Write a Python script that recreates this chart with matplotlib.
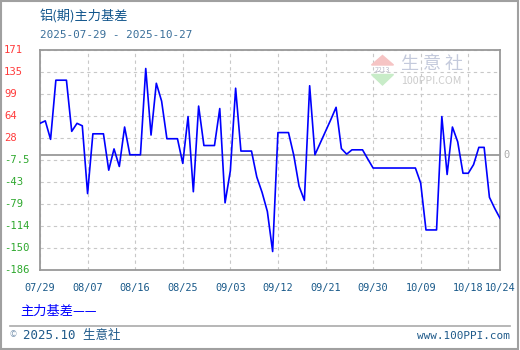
import numpy as np
import pandas as pd
import matplotlib
matplotlib.use('Agg')
import matplotlib.pyplot as plt
import matplotlib.transforms as mtransforms
from matplotlib.patches import Polygon, Rectangle
from matplotlib.lines import Line2D

# 数据: 铝(期)主力基差, 每日
dates = pd.date_range('2025-07-29', '2025-10-24', freq='D')
basis = [52, 56, 26, 122, 122, 122, 39, 52, 48, -62,
         35, 35, 35, -24, 10.5, -18, 46, 1, 1, 1,
         141, 33, 117, 88, 27, 27, 27, -13, 63, -59,
         80, 16, 16, 16, 76, -77, -25, 109, 7, 7,
         7, -35, -60, -91, -156, 37, 37, 37, 0, -50,
         -73, 113, 1, 20, 39, 58, 78, 11, 2, 9,
         9, 9, -6, -20.5, -20.5, -20.5, -20.5, -20.5, -20.5, -20.5,
         -20.5, -20.5, -45, -121, -121, -121, 63, -31, 46, 22,
         -29, -29, -15, 13, 13, -68, -86, -102]

y_ticks = np.linspace(-186, 171, 11)
y_labels = ['-186', '-150', '-114', '-79', '-43', '-7.5', '28', '64', '99', '135', '171']
x_tick_idx = list(range(0, len(dates), 9)) + [len(dates) - 1]
x_labels = [dates[i].strftime('%m/%d') for i in x_tick_idx]

title = '铝(期)主力基差'
subtitle = '2025-07-29 - 2025-10-27'
legend_txt = '主力基差——'

plt.rcParams['font.family'] = ['Noto Sans CJK SC', 'DejaVu Sans']
mono = 'DejaVu Sans Mono'

W, H = 520, 350
fig = plt.figure(figsize=(W / 100, H / 100), dpi=100)

def fx(x):
    return x / W

def fy(y):
    return 1 - y / H

ax = fig.add_axes([fx(40), fy(270), fx(500) - fx(40), (270 - 50) / H])

ax.plot(dates, basis, color='#0000ff', lw=1.2, zorder=3)
ax.axhline(0, color='#999999', lw=1.3, zorder=2)

ax.set_xlim(dates[0], dates[-1])
ax.set_ylim(-186, 171)
ax.set_yticks(y_ticks)
ax.set_yticklabels([])
ax.set_xticks([dates[i] for i in x_tick_idx])
ax.set_xticklabels(x_labels, fontfamily=mono, fontsize=7.4, color='#1a5a8a')
ax.tick_params(axis='both', length=0)
ax.tick_params(axis='x', pad=9)
ax.grid(True, color='#c8c8c8', lw=0.8, linestyle=(0, (3, 3)), zorder=1)
for s in ax.spines.values():
    s.set_color('#999999')
    s.set_linewidth(1.3)

# y 轴标签 (正数红, 负数绿)
trans = mtransforms.blended_transform_factory(fig.transFigure, ax.transData)
for v, lab in zip(y_ticks, y_labels):
    col = '#ff3b3b' if v > 0 else '#2ea82e'
    ax.text(fx(4), v, lab, transform=trans, ha='left', va='center',
            fontsize=7.6, fontfamily=mono, color=col)
ax.text(fx(507), 0, '0', transform=trans, ha='center', va='center',
        fontsize=7.5, fontfamily=mono, color='#aaaaaa')

# 标题
fig.text(fx(40), fy(16), title, fontsize=9.5, color='#11558c', va='center')
fig.text(fx(40), fy(35), subtitle, fontsize=7.9, fontfamily=mono, color='#3a6f9a', va='center')

# 水印
fig.patches.append(Polygon([(fx(371.5), fy(65)), (fx(393.5), fy(65)), (fx(382.5), fy(55.5))],
                           closed=True, transform=fig.transFigure, color='#f6c4c4', zorder=0))
fig.patches.append(Polygon([(fx(371.5), fy(74.5)), (fx(393.5), fy(74.5)), (fx(382.5), fy(85))],
                           closed=True, transform=fig.transFigure, color='#c8ecc8', zorder=0))
fig.text(fx(382.5), fy(70), '2213', fontsize=5, color='#b8b8c8', ha='center', va='center')
fig.text(fx(401), fy(64), '生 意 社', fontsize=13, color='#c4cadc', ha='left', va='center')
fig.text(fx(401), fy(81), '100PPI.COM', fontsize=7.6, color='#cccccc', ha='left', va='center')

# 图例
fig.text(fx(20), fy(311), legend_txt, fontsize=9.5, color='#0000ff', va='center')

# 底部
fig.add_artist(Line2D([fx(10), fx(510)], [fy(326), fy(326)], color='#aaaaaa', lw=1.2,
                      transform=fig.transFigure))
fig.text(fx(10), fy(335), '©', fontsize=6, color='#7a95b0', va='center')
fig.text(fx(23), fy(335), '2025.10 生意社', fontsize=9, color='#1f5a8a', va='center',
         family=[mono, 'Noto Sans CJK SC'])
fig.text(fx(510), fy(336), 'www.100PPI.com', fontsize=7.9, fontfamily=mono,
         color='#1f5a8a', ha='right', va='center')

fig.patches.append(Rectangle((fx(1), fy(349)), fx(517), (348) / H, fill=False,
                             edgecolor='#a0a0a0', lw=1.5, transform=fig.transFigure))

fig.savefig('out.png', dpi=100)
